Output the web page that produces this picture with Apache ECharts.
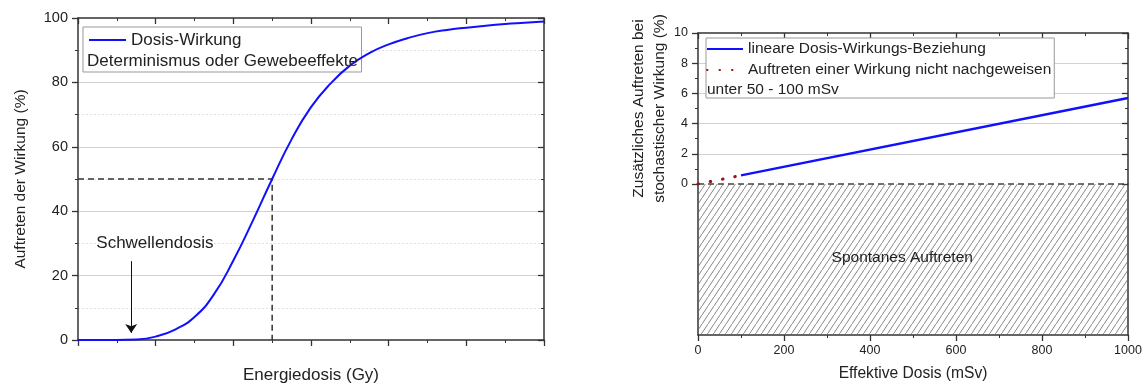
<!DOCTYPE html>
<html><head><meta charset="utf-8">
<script src="https://cdn.jsdelivr.net/npm/echarts@6/dist/echarts.min.js"></script>
<style>html,body{margin:0;padding:0;background:#fff}#c{width:1145px;height:390px}</style>
</head><body><div id="c"></div>
<script>
// ---- data (left chart: deterministic dose-response) ----
const doseGy    = [0,0.5,1,1.5,2,2.5,3,3.5,4,4.5,5,5.5,6,6.5,7,7.5,8,8.5,9,9.5,10,10.5,11,11.5,12];
const effectPct = [0,0,0,0.15,1.05,3.25,7.15,14.15,24.7,37,50,62.3,72.3,79.6,85.2,89.1,91.8,93.8,95.3,96.3,97,97.6,98.1,98.5,98.9];
const halfDose = [0, 5, 5];
const halfPct  = [50, 50, 0];
const thresholdLabel = 'Schwellendosis';
const thresholdLabelPos = [1.98, 30];
const thresholdArrowX = 1.37;
const thresholdArrowY = [24.5, 2.2];
// ---- data (right chart: stochastic effects) ----
const linearDose = [100, 1000];
const linearPct  = [0.57, 5.7];
const notDetDose = [0, 88];
const notDetPct  = [0, 0.5];
const spontDose  = [0, 1000];
const spontPct   = [0, 0];
const spontLabel = 'Spontanes Auftreten';
const spontLabelPos = [475, -4.85];

const zip = (a, b) => a.map((v, i) => [v, b[i]]);
const FONT = 'Liberation Sans, Arial, sans-serif';
const AX = '#333', TXT = '#222', BLUE = '#1010ff', RED = '#a01010';
const NOFILL = 'rgba(0,0,0,0)';

function hatch() {
  const c = document.createElement('canvas');
  c.width = 6; c.height = 9;
  const g = c.getContext('2d');
  g.strokeStyle = '#666'; g.lineWidth = 0.8;
  g.beginPath(); g.moveTo(-1, 10.5); g.lineTo(7, -1.5); g.stroke();
  return c;
}

function ax(o) {
  return Object.assign({
    type: 'value',
    axisLine: {show: true, onZero: false, lineStyle: {color: AX, width: 1.5}},
    axisTick: {show: true, inside: false, length: 6, lineStyle: {color: AX, width: 1.3}},
    minorTick: {show: true, splitNumber: 2, length: 3, lineStyle: {color: AX, width: 1}},
    axisLabel: {show: false},
    splitLine: {show: false}
  }, o);
}
const inTick = {show: true, inside: true, length: 6, lineStyle: {color: AX, width: 1.3}};
const inMinor = {show: true, splitNumber: 2, length: 3, lineStyle: {color: AX, width: 1}};
const legendBase = {
  orient: 'vertical', backgroundColor: '#fff', borderColor: '#999', borderWidth: 1, borderRadius: 0,
  itemStyle: {color: NOFILL, borderColor: NOFILL, borderWidth: 0}
};

const chart = echarts.init(document.getElementById('c'), null, {renderer: 'canvas'});
chart.setOption({
  animation: false,
  textStyle: {fontFamily: FONT},
  grid: [
    {left: 78, top: 18, width: 466, height: 329},
    {left: 698, top: 33, width: 430, height: 151},
    {left: 698, top: 184, width: 430, height: 151}
  ],
  title: [
    {text: 'Determinismus oder Gewebeeffekte', left: 87, top: 51, padding: 0,
     textStyle: {fontSize: 17, fontWeight: 'normal', color: TXT, lineHeight: 20, fontFamily: FONT}},
    {text: 'unter 50 - 100 mSv', left: 707, top: 81, padding: 0,
     textStyle: {fontSize: 15.5, fontWeight: 'normal', color: TXT, lineHeight: 18, fontFamily: FONT}}
  ],
  legend: [
    Object.assign({data: ['Dosis-Wirkung'], left: 83, top: 27,
     padding: [3, 120, 22, 5], itemWidth: 37, itemHeight: 14, itemGap: 0,
     textStyle: {fontSize: 17, color: TXT, lineHeight: 20, fontFamily: FONT}}, legendBase),
    Object.assign({data: ['lineare Dosis-Wirkungs-Beziehung', 'Auftreten einer Wirkung nicht nachgeweisen'],
     left: 706, top: 38,
     padding: [2, 3, 19, 0], itemWidth: 36, itemHeight: 14, itemGap: 3,
     textStyle: {fontSize: 15.5, color: TXT, lineHeight: 18, fontFamily: FONT}}, legendBase)
  ],
  xAxis: [
    ax({gridIndex: 0, position: 'bottom', min: 0, max: 12, interval: 2,
        name: 'Energiedosis (Gy)', nameLocation: 'middle', nameGap: 25,
        nameTextStyle: {fontSize: 17, color: TXT, lineHeight: 20}}),
    ax({gridIndex: 0, position: 'top', min: 0, max: 12, interval: 2, axisTick: inTick, minorTick: inMinor}),
    {type: 'value', gridIndex: 1, position: 'bottom', min: 0, max: 1000, interval: 200, show: false},
    ax({gridIndex: 1, position: 'top', min: 0, max: 1000, interval: 200, axisTick: inTick, minorTick: inMinor}),
    ax({gridIndex: 2, position: 'bottom', min: 0, max: 1000, interval: 200,
        axisLabel: {show: true, fontSize: 12.5, color: TXT, margin: 9, formatter: v => String(v)},
        name: 'Effektive Dosis (mSv)', nameLocation: 'middle', nameGap: 29.5,
        nameTextStyle: {fontSize: 15.6, color: TXT, lineHeight: 18}})
  ],
  yAxis: [
    ax({gridIndex: 0, position: 'left', min: 0, max: 100, interval: 20,
        axisLabel: {show: true, fontSize: 14.5, color: TXT, margin: 10},
        splitLine: {show: true, showMinLine: false, showMaxLine: false, lineStyle: {color: '#d2d2d2', width: 1}},
        minorSplitLine: {show: true, lineStyle: {color: '#e2e2e2', width: 1, type: [2, 2]}},
        name: 'Auftreten der Wirkung (%)', nameLocation: 'middle', nameGap: 48,
        nameTextStyle: {fontSize: 15.5, color: TXT, lineHeight: 18}}),
    ax({gridIndex: 0, position: 'right', min: 0, max: 100, interval: 20, axisTick: inTick, minorTick: inMinor}),
    ax({gridIndex: 1, position: 'left', min: 0, max: 10, interval: 2,
        axisLabel: {show: true, fontSize: 12.5, color: TXT, margin: 10},
        splitLine: {show: true, showMinLine: false, showMaxLine: false, lineStyle: {color: '#d2d2d2', width: 1}},
        name: 'Zusätzliches Auftreten bei\nstochastischer Wirkung (%)', nameLocation: 'middle', nameGap: 27,
        nameTextStyle: {fontSize: 15.5, color: TXT, lineHeight: 21, align: 'center'}}),
    ax({gridIndex: 1, position: 'right', min: 0, max: 10, interval: 2, axisTick: inTick, minorTick: inMinor}),
    ax({gridIndex: 2, position: 'left', min: -10, max: 0, interval: 2,
        axisTick: {show: false}, minorTick: {show: false}}),
    ax({gridIndex: 2, position: 'right', min: -10, max: 0, interval: 2,
        axisTick: {show: false}, minorTick: {show: false}})
  ],
  series: [
    {type: 'line', name: 'Dosis-Wirkung', xAxisIndex: 0, yAxisIndex: 0,
     data: zip(doseGy, effectPct), smooth: 0.5, symbol: 'circle', showSymbol: false,
     itemStyle: {color: NOFILL}, lineStyle: {color: BLUE, width: 2}, z: 4},
    {type: 'line', name: 'half', xAxisIndex: 0, yAxisIndex: 0, data: zip(halfDose, halfPct),
     symbol: 'none', clip: false, lineStyle: {color: '#333', width: 1.5, type: [6, 4]}, z: 3},
    {type: 'scatter', name: 'threshold', xAxisIndex: 0, yAxisIndex: 0,
     data: [thresholdLabelPos], symbolSize: 1, itemStyle: {color: NOFILL, opacity: 1},
     label: {show: true, position: 'inside', formatter: thresholdLabel, fontSize: 17, color: TXT, opacity: 1},
     markLine: {silent: true, symbol: ['none', 'arrow'], symbolSize: 9,
       label: {show: false}, lineStyle: {color: '#111', width: 1, type: 'solid', opacity: 1},
       itemStyle: {color: '#111'},
       emphasis: {disabled: true},
       data: [[{coord: [thresholdArrowX, thresholdArrowY[0]]}, {coord: [thresholdArrowX, thresholdArrowY[1]]}]]}},
    {type: 'line', name: 'lineare Dosis-Wirkungs-Beziehung', xAxisIndex: 2, yAxisIndex: 2,
     data: zip(linearDose, linearPct), symbol: 'circle', showSymbol: false, clip: false,
     itemStyle: {color: NOFILL}, lineStyle: {color: BLUE, width: 2.5}, z: 4},
    {type: 'line', name: 'Auftreten einer Wirkung nicht nachgeweisen', xAxisIndex: 2, yAxisIndex: 2,
     data: zip(notDetDose, notDetPct), symbol: 'circle', showSymbol: false, clip: false,
     itemStyle: {color: NOFILL}, lineStyle: {color: RED, width: 3, type: [0.5, 12], cap: 'round'}, z: 4},
    {type: 'line', name: 'spontan', xAxisIndex: 4, yAxisIndex: 4,
     data: zip(spontDose, spontPct), symbol: 'none', clip: false,
     lineStyle: {color: '#444', width: 1.5, type: [6, 4]},
     areaStyle: {origin: 'start', opacity: 1, color: {image: hatch(), repeat: 'repeat'}}, z: 3},
    {type: 'scatter', name: 'spontanLabel', xAxisIndex: 4, yAxisIndex: 4,
     data: [spontLabelPos], symbolSize: 1, itemStyle: {color: NOFILL, opacity: 1},
     label: {show: true, position: 'inside', formatter: spontLabel, fontSize: 15.5, color: TXT, opacity: 1}, z: 5}
  ]
});
</script></body></html>
